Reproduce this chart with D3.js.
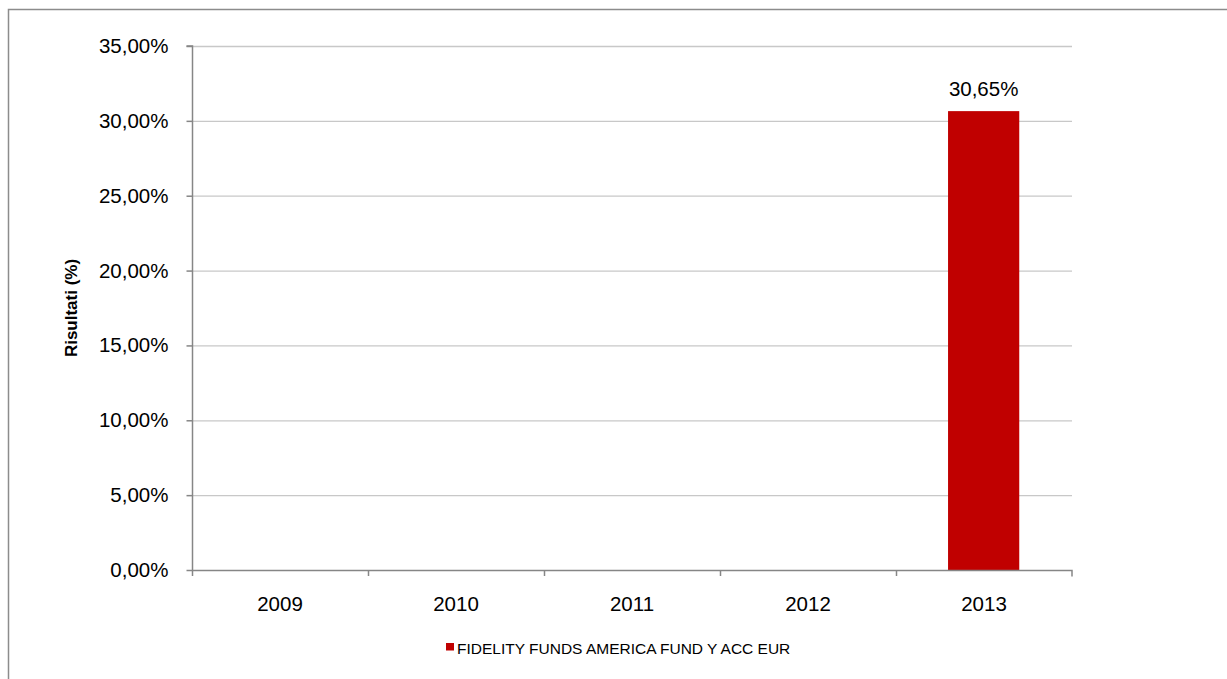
<!DOCTYPE html>
<html><head><meta charset="utf-8">
<script src="https://cdn.jsdelivr.net/npm/d3@7"></script>
<style>html,body{margin:0;padding:0;background:#fff;}svg{display:block;font-family:"Liberation Sans",Arial,sans-serif;}</style>
</head><body>
<svg id="c" width="1227" height="679"></svg>
<script>
const categories = ["2009","2010","2011","2012","2013"];
const values = [null,null,null,null,30.65];
const yTicks = [0,5,10,15,20,25,30,35];
const seriesName = "FIDELITY FUNDS AMERICA FUND Y ACC EUR";
const yTitle = "Risultati (%)";

const svg = d3.select("#c");
const L = 192, R = 1072, T = 46, B = 570;
const FS = 20.5;
const fmt = v => v.toFixed(2).replace(".", ",") + "%";

svg.append("rect").attr("x",8.5).attr("y",9.5).attr("width",1240).attr("height",700)
  .attr("fill","none").attr("stroke","#8c8c8c").attr("stroke-width",1.5);

const x = d3.scaleBand().domain(categories).range([L,R]).paddingInner(0.595).paddingOuter(0.3);
const xc = d3.scaleBand().domain(categories).range([L,R]);
const y = d3.scaleLinear().domain([0,35]).range([B,T]);

// gridlines
svg.append("g").selectAll("line").data(yTicks.filter(d=>d>0)).join("line")
  .attr("x1",L).attr("x2",R).attr("y1",d=>y(d)+0.5).attr("y2",d=>y(d)+0.5)
  .attr("stroke","#c8c8c8").attr("stroke-width",1.3);

const rows = categories.map((c,i)=>({c,v:values[i]})).filter(d=>d.v!=null);

// bars
svg.append("g").selectAll("rect").data(rows).join("rect")
  .attr("x",d=>x(d.c)).attr("width",x.bandwidth())
  .attr("y",d=>y(d.v)).attr("height",d=>B-y(d.v)).attr("fill","#c00000");

// labels
svg.append("g").selectAll("text").data(rows).join("text")
  .attr("x",d=>x(d.c)+x.bandwidth()/2).attr("y",d=>y(d.v)-15)
  .attr("text-anchor","middle").attr("font-size",FS).attr("fill","#000").text(d=>fmt(d.v));

// y axis
const yAxis = d3.axisLeft(y).tickValues(yTicks).tickFormat(fmt).tickSize(6).tickPadding(18);
const gy = svg.append("g").attr("transform",`translate(${L+0.5},0)`).call(yAxis);
gy.select(".domain").attr("stroke","#868686").attr("stroke-width",1.5).attr("d",`M-6,${T}H0V${B}`);
gy.selectAll(".tick line").attr("stroke","#868686").attr("stroke-width",1.5);
gy.selectAll(".tick text").attr("font-size",FS).attr("fill","#000").attr("font-family","Liberation Sans, Arial, sans-serif");

// x axis
const xAxis = d3.axisBottom(xc).tickSize(0).tickPadding(26);
const gx = svg.append("g").attr("transform",`translate(0,${B+0.5})`).call(xAxis);
gx.select(".domain").attr("stroke","#868686").attr("stroke-width",1.5).attr("d",`M${L},0H${R}V6`);
gx.selectAll(".tick text").attr("font-size",FS).attr("fill","#000").attr("font-family","Liberation Sans, Arial, sans-serif");
// boundary ticks
svg.append("g").selectAll("line").data(categories).join("line")
  .attr("x1",d=>xc(d)+0.5).attr("x2",d=>xc(d)+0.5).attr("y1",B).attr("y2",B+6)
  .attr("stroke","#868686").attr("stroke-width",1.5);

// y title
svg.append("text").attr("transform",`translate(77,${(T+B)/2}) rotate(-90)`)
  .attr("text-anchor","middle").attr("font-size",17).attr("font-weight","bold").text(yTitle);

// legend
const lg = svg.append("g").attr("transform","translate(446,643)");
lg.append("rect").attr("width",8).attr("height",7.5).attr("fill","#c00000");
lg.append("text").attr("x",11).attr("y",11).attr("font-size",15.5).attr("fill","#000").text(seriesName);
</script>
</body></html>
